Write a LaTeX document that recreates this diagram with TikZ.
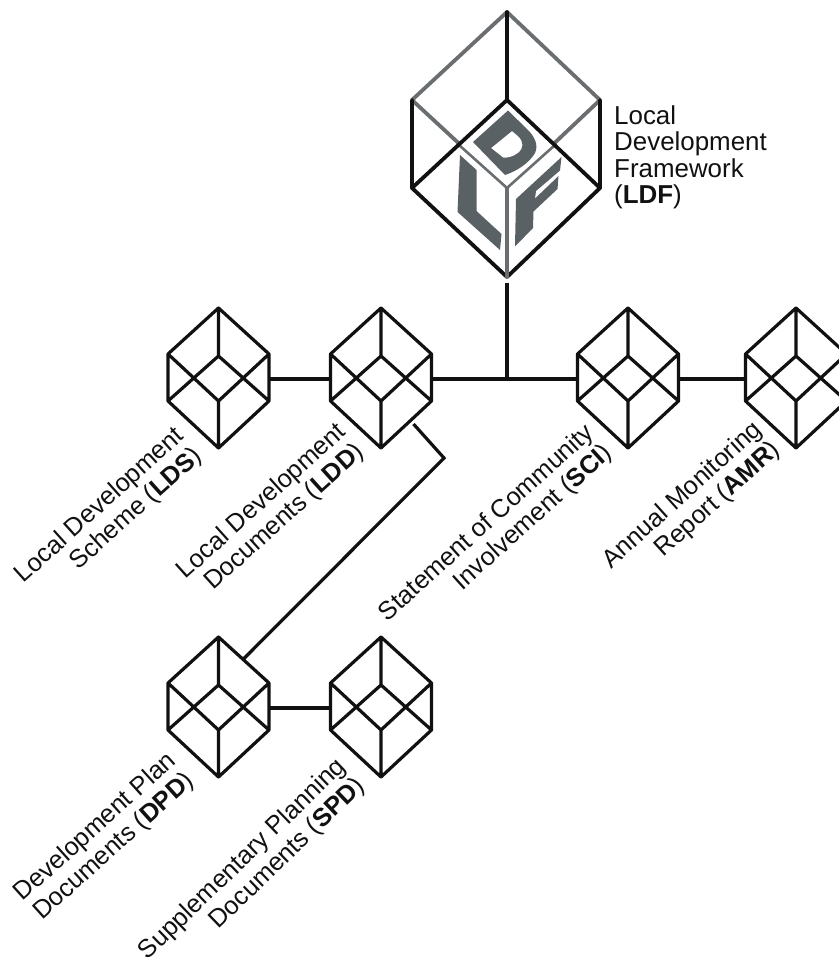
\documentclass[tikz,border=0pt]{standalone}
\usepackage{fontspec}
\setmainfont{Liberation Sans}
\definecolor{letter}{HTML}{5A6165}
\definecolor{greyline}{HTML}{6A6E70}
\definecolor{ink}{HTML}{111111}
\tikzset{
  cubebox/.style={draw=none,inner sep=0pt,outer sep=0pt,minimum width=101bp,minimum height=140bp},
  bigbox/.style={draw=none,inner sep=0pt,outer sep=0pt,minimum width=188bp,minimum height=276bp},
  wire/.style={draw=ink,line width=3.2bp},
  front/.style={draw=ink,line width=3.8bp,line join=round,line cap=round},
  back/.style={draw=greyline,line width=3.8bp,line join=round,line cap=round},
  label/.style={font=\fontsize{25.5}{27}\selectfont,text=ink,inner sep=0pt,align=right,rotate=42,anchor=east},
  smallcube/.pic={
    \draw[wire,line join=round,line cap=round]
      (0,-71)--(-50.5,-25)--(-50.5,22)--(0,69)--(50.5,22)--(50.5,-25)--cycle
      (0,-71)--(0,-23) (0,69)--(0,22)
      (-50.5,-25)--(0,22)--(50.5,-25)
      (-50.5,22)--(0,-23)--(50.5,22);
  }
}
\begin{document}
\begin{tikzpicture}[x=1bp,y=-1bp]
\useasboundingbox (0,0) rectangle (839,965);
\clip (0,0) rectangle (839,965);
% nodes
\node[bigbox] (ldf) at (507,145) {};
\node[cubebox] (lds) at (218.5,379) {};
\node[cubebox] (ldd) at (381,379) {};
\node[cubebox] (sci) at (628,379) {};
\node[cubebox] (amr) at (796,379) {};
\node[cubebox] (dpd) at (218.5,708) {};
\node[cubebox] (spd) at (381,708) {};
\coordinate (junction) at (507,379);
\coordinate (lddport) at (413.5,424);
\coordinate (bend) at (444,458);
\coordinate (dpdport) at (243.5,659);
% connectors
\draw[wire] (lds.east) -- (ldd.west);
\draw[wire] (ldd.east) -- (sci.west);
\draw[wire] (sci.east) -- (amr.west);
\draw[wire] (ldf.south) -- (junction);
\draw[wire,line join=miter] (lddport) -- (bend) -- (dpdport);
\draw[wire] (dpd.east) -- (spd.west);
% small cubes
\foreach \n in {lds,ldd,sci,amr,dpd,spd} \pic at (\n) {smallcube};
% big cube: back edges
\draw[back] (412,100)--(507,12)--(600,100)
            (412,100)--(507,188)--(600,100)
            (507,188)--(507,277);
% letters
\fill[white] (507,100)--(570,158)--(507,217)--(444,158)--cycle;
\draw[back,line width=2.6bp] (459,145)--(507,188)--(555,145);
\fill[letter,even odd rule]
  (473,142)--(508,110.5)--(528,130) .. controls (537,139) and (539,149) .. (533,156)
  .. controls (527,164) and (517,171) .. (505,175) --cycle
  (491,148)--(512,131)--(518,136) .. controls (524,142) and (524,148) .. (518,153)
  .. controls (513,157) and (507,158) .. (503,157.5) --cycle;
\fill[letter] (460,155)--(476.5,170)--(476.5,211)--(501.5,234)--(500,250)--(457.5,212)--cycle;
\fill[letter] (516,199)--(561.5,157)--(560,170.5)--(536,191)--(535,198.5)--(558.5,176)--(557.5,189)--(533.5,211.5)--(533,228)--(515,246.5)--cycle;
% big cube: front edges
\draw[front] (507,12)--(507,100);
\draw[front] (412,100)--(412,188)--(507,277)--(600,188)--(600,100);
\draw[front] (412,188)--(507,100)--(600,188);
\draw[back] (507,188)--(507,277);
% labels
\node[font=\fontsize{26}{26.6}\selectfont,text=ink,inner sep=0pt,align=left,anchor=west] (ldflabel) at (614,157.5)
  {Local\\Development\\Framework\\(\textbf{LDF})};
\node[label] (ldslabel) at (190,443) {Local Development\\Scheme (\textbf{LDS})};
\node[label] (lddlabel) at (352,439) {Local Development\\Documents (\textbf{LDD})};
\node[label] (scilabel) at (600,440) {Statement of Community\\Involvement (\textbf{SCI})};
\node[label] (amrlabel) at (768,437) {Annual Monitoring\\Report (\textbf{AMR})};
\node[label] (dpdlabel) at (182,768) {Development Plan\\Documents (\textbf{DPD})};
\node[label,rotate=2] (spdlabel) at (352,773) {Supplementary Planning\\Documents (\textbf{SPD})};
\end{tikzpicture}
\end{document}
